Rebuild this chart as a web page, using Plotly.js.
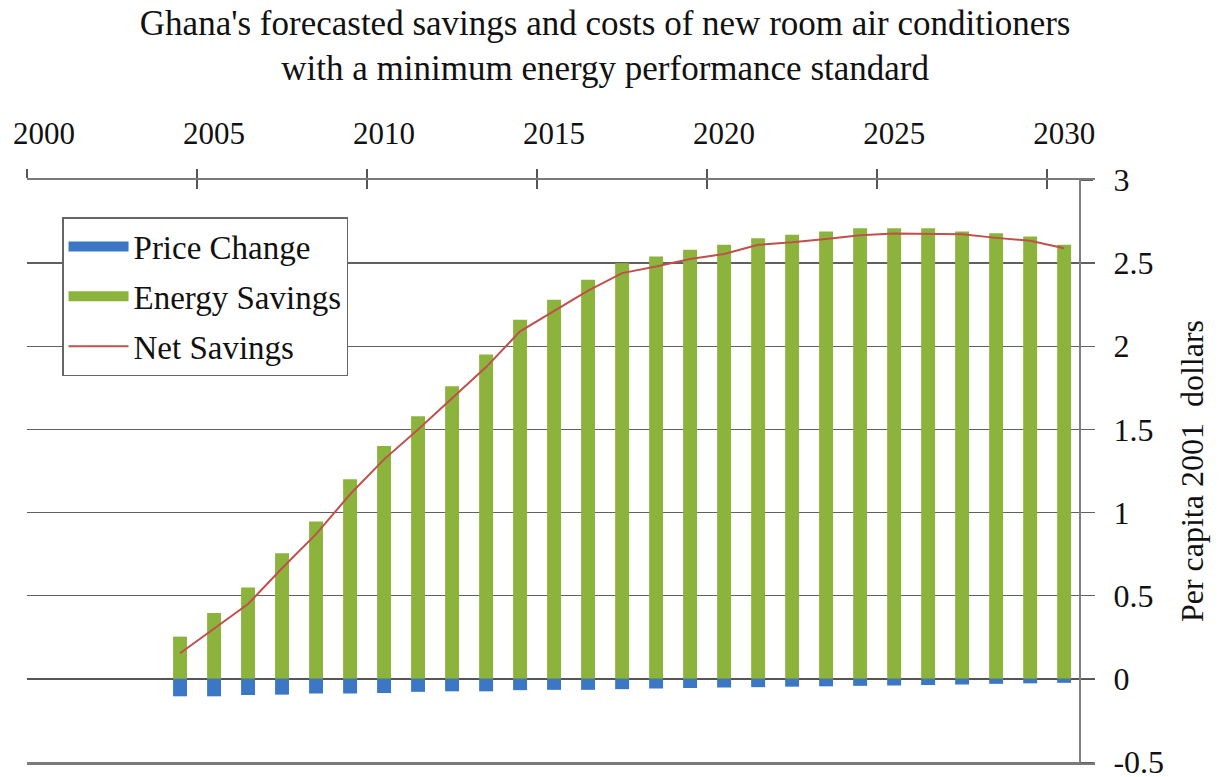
<!DOCTYPE html>
<html>
<head>
<meta charset="utf-8">
<script src="https://cdn.plot.ly/plotly-3.0.1.min.js"></script>
<style>html,body{margin:0;padding:0;background:#fff;}#chart{width:1225px;height:777px;}</style>
</head>
<body>
<div id="chart"></div>
<script>
// Data
const years = ['2004','2005','2006','2007','2008','2009','2010','2011','2012','2013','2014','2015','2016','2017','2018','2019','2020','2021','2022','2023','2024','2025','2026','2027','2028','2029','2030'];
const priceChange = [-0.105,-0.105,-0.097,-0.095,-0.088,-0.088,-0.085,-0.078,-0.075,-0.075,-0.068,-0.066,-0.066,-0.062,-0.058,-0.055,-0.052,-0.05,-0.047,-0.045,-0.042,-0.04,-0.037,-0.034,-0.03,-0.027,-0.024];
const energySavings = [0.254,0.396,0.55,0.756,0.946,1.20,1.40,1.58,1.76,1.95,2.16,2.28,2.40,2.50,2.54,2.58,2.61,2.65,2.67,2.69,2.71,2.71,2.71,2.69,2.68,2.66,2.61];
const netSavings = [0.154,0.30,0.45,0.665,0.87,1.11,1.32,1.50,1.685,1.875,2.09,2.21,2.335,2.44,2.48,2.525,2.555,2.61,2.625,2.645,2.668,2.678,2.678,2.674,2.652,2.634,2.59];
const seriesNames = ['Price Change','Energy Savings','Net Savings'];
const yTickVals = [-0.5,0,0.5,1,1.5,2,2.5,3];
const yTickText = ['-0.5','0','0.5','1','1.5','2','2.5','3'];

const FONT = 'Liberation Serif, Times New Roman, Times, serif';
const BLUE = '#3b77c5', GREEN = '#8cb43c', RED = '#c0504d';
const YEAR_MS = 365.25*24*3600*1000;

const traces = [
  // legend-only entries (wide colour swatches like the reference)
  {type:'scatter', mode:'lines', x:[null], y:[null], name:seriesNames[0], legendgroup:'a',
   line:{color:BLUE, width:14}, hoverinfo:'skip'},
  {type:'scatter', mode:'lines', x:[null], y:[null], name:seriesNames[1], legendgroup:'b',
   line:{color:GREEN, width:14}, hoverinfo:'skip'},
  {type:'bar', x:years, y:energySavings, name:seriesNames[1], showlegend:false,
   xperiod:'M12', xperiodalignment:'middle', width:0.41*YEAR_MS,
   marker:{color:GREEN, line:{width:0}}},
  {type:'bar', x:years, y:priceChange, name:seriesNames[0], showlegend:false,
   xperiod:'M12', xperiodalignment:'middle', width:0.41*YEAR_MS,
   marker:{color:BLUE, line:{width:0}}},
  {type:'scatter', mode:'lines', x:years, y:netSavings, name:seriesNames[2], legendgroup:'c',
   xaxis:'x2', xperiod:'M12', xperiodalignment:'middle',
   line:{color:RED, width:2}}
];

const layout = {
  width:1225, height:777,
  paper_bgcolor:'#fff', plot_bgcolor:'#fff',
  margin:{l:27, r:130, t:180, b:15, pad:0},
  font:{family:FONT, color:'#111', size:30},
  title:{text:"Ghana's forecasted savings and costs of new room air conditioners<br>with a minimum energy performance standard",
         font:{family:FONT, size:35, color:'#111'},
         xref:'container', x:0.494, xanchor:'center',
         yref:'container', y:0.955, yanchor:'top'},
  barmode:'relative',
  showlegend:true,
  legend:{x:0.0328, y:0.9364, xanchor:'left', yanchor:'top',
          bgcolor:'#fff', bordercolor:'#666', borderwidth:1.5,
          font:{family:FONT, size:33, color:'#111'},
          traceorder:'grouped', tracegroupgap:4, itemwidth:60},
  xaxis:{type:'date', side:'top', range:['2000-01-01','2031-05-30'],
         tick0:'2000-01-01', dtick:'M60', tickformat:'%Y',
         ticks:'outside', ticklen:9, tickwidth:1.5, tickcolor:'#555',
         showline:true, mirror:true, linecolor:'#7a7a7a', linewidth:2.5,
         showgrid:false, zeroline:false, fixedrange:true,
         ticklabelshift:17, ticklabelstandoff:12,
         tickfont:{family:FONT, size:31, color:'#111'}},
  xaxis2:{type:'date', overlaying:'x', matches:'x', side:'top',
          tick0:'2000-01-01', dtick:'M60',
          ticks:'inside', ticklen:9, tickwidth:1.5, tickcolor:'#555',
          showticklabels:false, showline:false, showgrid:false, zeroline:false},
  yaxis:{range:[-0.5,3], tickvals:yTickVals, ticktext:yTickText,
         side:'right', anchor:'free', position:0.986,
         showline:true, linecolor:'#808080', linewidth:2,
         showgrid:true, gridcolor:'#606060', gridwidth:1.5,
         zeroline:true, zerolinecolor:'#555', zerolinewidth:1.5,
         ticks:'outside', ticklen:12, tickcolor:'#606060',
         ticklabelstandoff:14, ticklabeloverflow:'allow',
         tickfont:{family:FONT, size:32, color:'#111'},
         title:{text:'Per capita 2001  dollars', standoff:16,
                font:{family:FONT, size:32, color:'#111'}},
         automargin:false}
};

Plotly.newPlot('chart', traces, layout, {displayModeBar:false, staticPlot:true});
</script>
</body>
</html>
